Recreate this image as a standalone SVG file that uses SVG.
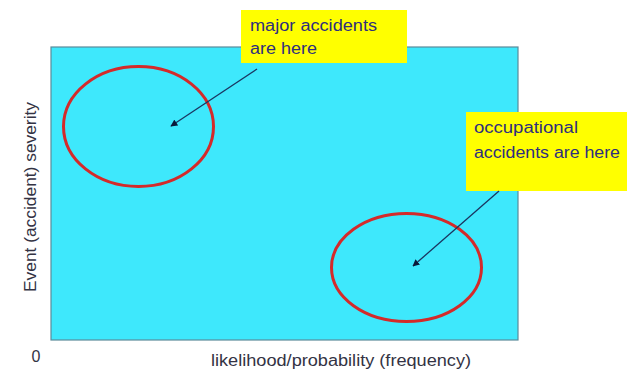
<svg xmlns="http://www.w3.org/2000/svg" width="627" height="376" viewBox="0 0 627 376">
<style>
.lbl{font-family:"Liberation Sans",Arial,sans-serif;fill:#2e2e7e;font-size:16px}
.ax{font-family:"Liberation Sans",Arial,sans-serif;fill:#333344;font-size:16px}
.ring{fill:none;stroke:#d42a2a;stroke-width:3}
.box{fill:#ffff00}
.conn{stroke:#1a3560;stroke-width:1.3;fill:none;marker-end:url(#ah)}
</style>
<defs>
<marker id="ah" viewBox="0 0 10 10" refX="9" refY="5" markerWidth="7" markerHeight="7" markerUnits="userSpaceOnUse" orient="auto">
<path d="M0,0 L10,5 L0,10 z" fill="#0a1a3a"/>
</marker>
</defs>
<rect width="627" height="376" fill="#ffffff"/>
<g id="plot">
<rect x="51" y="47" width="467" height="293" fill="#3ee8fc" stroke="#5a8a9a" stroke-width="1.2"/>
</g>
<g id="major-region">
<ellipse class="ring" cx="138.5" cy="126.5" rx="75" ry="60"/>
</g>
<g id="occupational-region">
<ellipse class="ring" cx="406.5" cy="267.5" rx="75" ry="54"/>
</g>
<g id="major-label">
<rect class="box" x="241" y="10" width="166" height="53"/>
<text class="lbl" x="250" y="31" textLength="127" lengthAdjust="spacingAndGlyphs">major accidents</text>
<text class="lbl" x="250" y="54" textLength="67" lengthAdjust="spacingAndGlyphs">are here</text>
</g>
<g id="occupational-label">
<rect class="box" x="466" y="112" width="161" height="79"/>
<text class="lbl" x="474" y="133" textLength="104" lengthAdjust="spacingAndGlyphs">occupational</text>
<text class="lbl" x="474" y="158" textLength="146" lengthAdjust="spacingAndGlyphs">accidents are here</text>
</g>
<g id="connectors">
<line class="conn" x1="257" y1="69" x2="171" y2="126"/>
<line class="conn" x1="499" y1="191" x2="413" y2="266"/>
</g>
<g id="axes-labels">
<text class="ax" x="36" y="362" text-anchor="middle">0</text>
<text class="ax" x="211" y="366" textLength="260" lengthAdjust="spacingAndGlyphs">likelihood/probability (frequency)</text>
<text class="ax" transform="translate(36,197) rotate(-90)" text-anchor="middle" textLength="190" lengthAdjust="spacingAndGlyphs">Event (accident) severity</text>
</g>
</svg>
